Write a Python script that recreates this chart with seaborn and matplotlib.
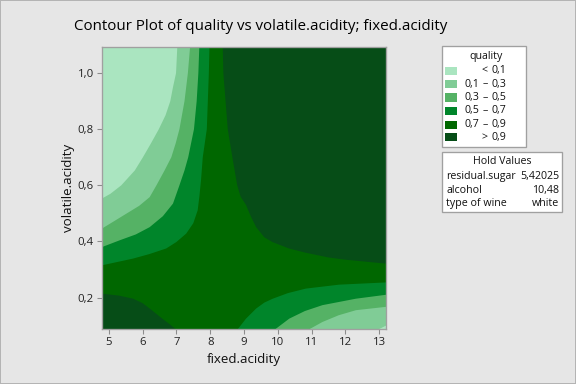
import matplotlib
matplotlib.use("Agg")
import matplotlib.pyplot as plt
import seaborn as sns
from matplotlib.patches import Rectangle

# ---------------- data ----------------
levels = [0.1, 0.3, 0.5, 0.7, 0.9]
band_colors = ["#AAE5C0", "#80CC96", "#55B265", "#00852A", "#006700", "#064D17"]

x_ticks = [5, 6, 7, 8, 9, 10, 11, 12, 13]
x_tick_labels = ["5", "6", "7", "8", "9", "10", "11", "12", "13"]
y_ticks = [0.2, 0.4, 0.6, 0.8, 1.0]
y_tick_labels = ["0,2", "0,4", "0,6", "0,8", "1,0"]
x_range = [4.8, 13.2]
y_range = [0.088, 1.093]

# upper-left contour branches (top edge -> left edge)
ul_01_x = [7.03, 6.99, 6.90, 6.82, 6.68, 6.48, 6.25, 6.01, 5.77, 5.37, 5.05, 4.8]
ul_01_y = [1.10, 1.00, 0.95, 0.90, 0.85, 0.80, 0.75, 0.70, 0.653, 0.60, 0.570, 0.553]
ul_03_x = [7.41, 7.34, 7.24, 7.09, 6.98, 6.85, 6.65, 6.41, 6.21, 5.90, 5.52, 5.10, 4.8]
ul_03_y = [1.10, 1.00, 0.90, 0.80, 0.75, 0.70, 0.653, 0.60, 0.558, 0.527, 0.499, 0.468, 0.446]
ul_05_x = [7.68, 7.65, 7.60, 7.52, 7.35, 7.24, 7.09, 6.90, 6.60, 6.21, 5.80, 5.32, 4.8]
ul_05_y = [1.10, 1.00, 0.90, 0.80, 0.70, 0.653, 0.60, 0.535, 0.490, 0.451, 0.425, 0.404, 0.380]
ul_07_x = [7.98, 7.96, 7.90, 7.78, 7.73, 7.68, 7.63, 7.50, 7.29, 7.00, 6.70, 6.20, 5.72, 4.8]
ul_07_y = [1.10, 1.00, 0.80, 0.70, 0.62, 0.56, 0.511, 0.465, 0.428, 0.398, 0.375, 0.355, 0.339, 0.315]
# upper-right branch of the 0.9 contour (top edge -> right edge)
ur_09_x = [8.37, 8.39, 8.52, 8.67, 8.80, 8.90, 9.06, 9.20, 9.36, 9.60, 9.84, 10.33, 10.82, 11.50, 12.00, 12.60, 13.2]
ur_09_y = [1.10, 1.00, 0.80, 0.69, 0.60, 0.56, 0.53, 0.49, 0.451, 0.415, 0.398, 0.375, 0.360, 0.343, 0.335, 0.328, 0.321]
# lower-left branch of the 0.9 contour (left edge -> bottom edge)
ll_09_x = [4.8, 5.30, 5.72, 6.00, 6.21, 6.55, 6.80, 7.0]
ll_09_y = [0.214, 0.207, 0.196, 0.180, 0.161, 0.128, 0.105, 0.085]
# lower-right contour branches (bottom edge -> right edge)
lr_07_x = [8.80, 9.06, 9.36, 9.60, 9.85, 10.30, 10.83, 11.81, 13.2]
lr_07_y = [0.085, 0.125, 0.161, 0.182, 0.196, 0.216, 0.232, 0.246, 0.254]
lr_05_x = [9.90, 10.34, 10.80, 11.32, 12.31, 13.2]
lr_05_y = [0.085, 0.125, 0.152, 0.173, 0.196, 0.210]
lr_03_x = [10.90, 11.32, 11.80, 12.31, 13.2]
lr_03_y = [0.085, 0.113, 0.137, 0.155, 0.167]
lr_01_x = [12.95, 13.2]
lr_01_y = [0.085, 0.100]

hold_names = ["residual.sugar", "alcohol", "type of wine"]
hold_values = ["5,42025", "10,48", "white"]

# ---------------- style ----------------
sns.set_theme(style="white")
plt.rcParams["font.family"] = ["Open Sans", "DejaVu Sans"]

W, H = 576, 384
fig = plt.figure(figsize=(W / 96, H / 96), dpi=96, facecolor="#E6E6E6")
fig.patch.set_edgecolor("#B4B4B4")
fig.patch.set_linewidth(1.5)


def fx(px):
    return px / W


def fy(py):
    return 1 - py / H


ax = fig.add_axes([fx(102), fy(329), fx(386) - fx(102), fy(47) - fy(329)])
ax.set_facecolor(band_colors[4])
xl, xr = x_range
yb, yt = y_range
top, bot = 1.2, 0.0

# upper-left family: corner = top-left
for xs, ys, col in [(ul_07_x, ul_07_y, band_colors[3]),
                    (ul_05_x, ul_05_y, band_colors[2]),
                    (ul_03_x, ul_03_y, band_colors[1]),
                    (ul_01_x, ul_01_y, band_colors[0])]:
    ax.fill(xs + [xs[-1] - 1, xs[-1] - 1, xs[0]], ys + [ys[-1], top, top],
            color=col, lw=0)
# upper-right >0.9
ax.fill(ur_09_x + [ur_09_x[-1] + 1, ur_09_x[-1] + 1, ur_09_x[0]],
        ur_09_y + [ur_09_y[-1], top, top], color=band_colors[5], lw=0)
# lower-left >0.9
ax.fill(ll_09_x + [ll_09_x[-1], ll_09_x[0] - 1, ll_09_x[0] - 1],
        ll_09_y + [bot, bot, ll_09_y[0]], color=band_colors[5], lw=0)
# lower-right family: corner = bottom-right
for xs, ys, col in [(lr_07_x, lr_07_y, band_colors[3]),
                    (lr_05_x, lr_05_y, band_colors[2]),
                    (lr_03_x, lr_03_y, band_colors[1]),
                    (lr_01_x, lr_01_y, band_colors[0])]:
    ax.fill(xs + [xs[-1] + 1, xs[-1] + 1, xs[0]], ys + [ys[-1], bot, bot],
            color=col, lw=0)

ax.set_xlim(xl, xr)
ax.set_ylim(yb, yt)
ax.set_xticks(x_ticks)
ax.set_xticklabels(x_tick_labels)
ax.set_yticks(y_ticks)
ax.set_yticklabels(y_tick_labels)
ax.tick_params(axis="both", direction="out", length=4, width=0.8,
               color="#8C8C8C", labelsize=8.5, labelcolor="#222222", pad=2,
               bottom=True, left=True)
for s in ax.spines.values():
    s.set_color("#A0A0A0")
    s.set_linewidth(1)
ax.set_xlabel("fixed.acidity", fontsize=10, color="#111111", labelpad=4)
ax.set_ylabel("volatile.acidity", fontsize=10, color="#111111", labelpad=2)

fig.text(fx(261), fy(26), "Contour Plot of quality vs volatile.acidity; fixed.acidity",
         ha="center", va="center", fontsize=11.3, color="#000000")

# ---------------- legend box ----------------
fig.patches.append(Rectangle((fx(442), fy(147)), fx(526) - fx(442), fy(46) - fy(147),
                             transform=fig.transFigure, facecolor="white",
                             edgecolor="#A0A0A0", lw=1))
fig.text(fx(486), fy(57), "quality", ha="center", va="center", fontsize=8, color="#111111")
row_y = [71, 84, 97.5, 111, 124.5, 137.5]
labels = []
for i in range(len(levels) + 1):
    if i == 0:
        labels.append(("", "<", f"{levels[0]}".replace(".", ",")))
    elif i == len(levels):
        labels.append(("", ">", f"{levels[-1]}".replace(".", ",")))
    else:
        labels.append((f"{levels[i-1]}".replace(".", ","), "–", f"{levels[i]}".replace(".", ",")))
for i, (l, m, r) in enumerate(labels):
    py = row_y[i]
    fig.patches.append(Rectangle((fx(445), fy(py + 4)), fx(12), 8 / H,
                                 transform=fig.transFigure, facecolor=band_colors[i],
                                 edgecolor="none"))
    if l:
        fig.text(fx(479), fy(py), l, ha="right", va="center", fontsize=8, color="#111111")
    fig.text(fx(485), fy(py), m, ha="center", va="center", fontsize=8, color="#111111")
    fig.text(fx(492), fy(py), r, ha="left", va="center", fontsize=8, color="#111111")

# ---------------- hold values box ----------------
fig.patches.append(Rectangle((fx(442), fy(212)), fx(562) - fx(442), fy(152) - fy(212),
                             transform=fig.transFigure, facecolor="white",
                             edgecolor="#A0A0A0", lw=1))
fig.text(fx(502), fy(162), "Hold Values", ha="center", va="center", fontsize=8, color="#111111")
for i, (n, v) in enumerate(zip(hold_names, hold_values)):
    py = 176.5 + 13.5 * i
    fig.text(fx(446.5), fy(py), n, ha="left", va="center", fontsize=8, color="#111111")
    fig.text(fx(559), fy(py), v, ha="right", va="center", fontsize=8, color="#111111")

fig.savefig("out.png", dpi=96, facecolor=fig.get_facecolor(), edgecolor=fig.patch.get_edgecolor())
